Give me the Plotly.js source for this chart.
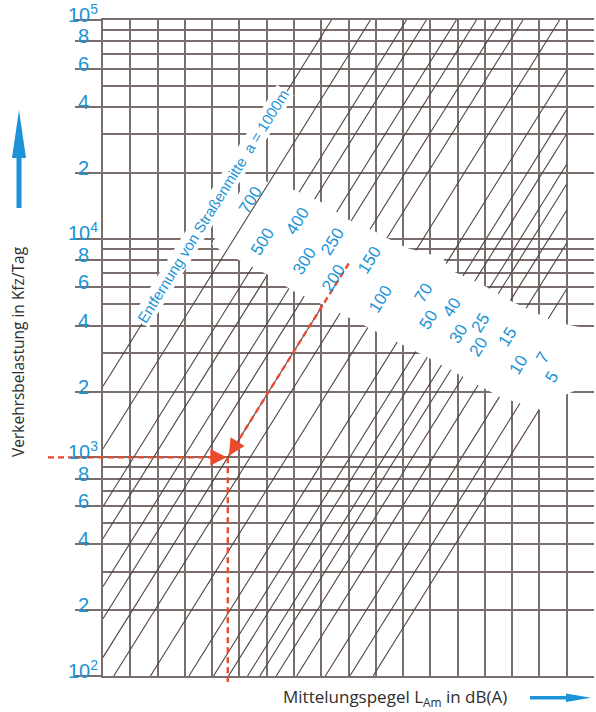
<!DOCTYPE html>
<html><head><meta charset="utf-8">
<script src="https://cdn.plot.ly/plotly-3.0.1.min.js"></script>
<style>html,body{margin:0;padding:0;background:#fff}#chart{width:596px;height:712px}</style>
</head><body><div id="chart"></div>
<script>
// ---------------- DATA ----------------
// distance from road centre (m)
const distances = [1000, 700, 500, 400, 300, 250, 200, 150, 100, 70, 50, 40, 30, 25, 20, 15, 10, 7, 5];
// Mittelungspegel L_Am (dB(A)) of each distance line at a traffic load of 1000 Kfz/Tag
const levelAt1000 = [32.75, 35.61, 38.25, 39.71, 41.91, 43.38, 45.15, 46.79, 49.48, 52.3, 54.1, 55.2, 56.6, 57.5, 58.7, 60.2, 62.3, 64.1, 65.8];
const distanceLabels = ['a = 1000m', '700', '500', '400', '300', '250', '200', '150', '100', '70', '50', '40', '30', '25', '20', '15', '10', '7', '5'];
// y axis (Verkehrsbelastung, Kfz/Tag)
const yTickVals = [100, 200, 400, 600, 800, 1000, 2000, 4000, 6000, 8000, 10000, 20000, 40000, 60000, 80000, 100000];
const yTickText = ['10<sup>2</sup>', '2', '4', '6', '8', '10<sup>3</sup>', '2', '4', '6', '8', '10<sup>4</sup>', '2', '4', '6', '8', '10<sup>5</sup>'];
const yMinorVals = [300, 500, 700, 900, 3000, 5000, 7000, 9000, 30000, 50000, 70000, 90000];
// x grid (dB(A), unlabelled, 2 dB steps)
const xGridVals = [36, 38, 40, 42, 44, 46, 48, 50, 52, 54, 56, 58, 60, 62, 64, 66, 68, 70];
const exampleDistance = 200;
const exampleStartTraffic = 7700;
const exampleTraffic = 1000;

// ---------------- LAYOUT GEOMETRY ----------------
const W = 596, H = 712;
const M = {l: 103, r: 2, t: 20, b: 36};
const PW = W - M.l - M.r, PH = H - M.t - M.b;
const X_MIN = 36, X_MAX = 72, LOG_MIN = 2, LOG_MAX = 5;
const X_LINE_MAX = 70;
const pxToDb = px => X_MIN + (px - M.l) * (X_MAX - X_MIN) / PW;
const pyToVal = py => Math.pow(10, LOG_MIN + (M.t + PH - py) * (LOG_MAX - LOG_MIN) / PH);
const pxToPaperX = px => (px - M.l) / PW;
const pyToPaperY = py => (M.t + PH - py) / PH;
const dbToPaperX = db => (db - X_MIN) / (X_MAX - X_MIN);
const valToPaperY = v => (Math.log10(v) - LOG_MIN) / (LOG_MAX - LOG_MIN);

const GRID = '#7a6e6d';
const DIAG = '#4f4544';
const BLUE = '#1b93d6';
const RED = '#ec4a2c';
const TXT = '#2e2e2e';

// white band behind the distance labels (pixel outline)
const maskOutlinePx = [[248,176],[294,190],[321,202],[349,220],[376,232],[387,238],[407,248],[443,258],[450,270],[483,285],[513,302],[555,322],[594,330],[594,382],[563,396],[540,410],[500,397],[427,357],[373,330],[330,308],[293,291],[270,276],[247,264],[223,252],[212,244]];
// label centres (pixel)
const labelPosPx = [[213,207],[250,200],[263,242],[297,221],[304,261],[333,242],[333,278],[369,260],[380,299],[423,293],[428,320],[452,308],[458,334],[480,323],[478,347],[507,337],[518,365],[542,358],[552,378]];

// ---------------- TRACES ----------------
function lineSegment(L) {
  const lo = Math.max(LOG_MIN, 3 + (X_MIN - L) / 10);
  const hi = Math.min(LOG_MAX, 3 + (X_LINE_MAX - L) / 10);
  return {x: [L + 10 * (lo - 3), L + 10 * (hi - 3)], y: [Math.pow(10, lo), Math.pow(10, hi)]};
}
const underX = [], underY = [], overX = [], overY = [];
distances.forEach((d, i) => {
  const s = lineSegment(levelAt1000[i]);
  const tx = (d >= 700) ? overX : underX, ty = (d >= 700) ? overY : underY;
  tx.push(s.x[0], s.x[1], null); ty.push(s.y[0], s.y[1], null);
});
const traces = [];
traces.push({type: 'scatter', mode: 'lines', x: underX, y: underY, line: {color: DIAG, width: 1.1}, hoverinfo: 'skip', showlegend: false});
traces.push({type: 'scatter', mode: 'lines', fill: 'toself', fillcolor: '#ffffff',
  x: maskOutlinePx.map(p => pxToDb(p[0])), y: maskOutlinePx.map(p => pyToVal(p[1])),
  line: {width: 0, color: 'rgba(0,0,0,0)'}, hoverinfo: 'skip', showlegend: false});
traces.push({type: 'scatter', mode: 'lines', x: overX, y: overY, line: {color: DIAG, width: 1.1}, hoverinfo: 'skip', showlegend: false});

const exIdx = distances.indexOf(exampleDistance);
const exL = levelAt1000[exIdx];
const levelAt = (L, m) => L + 10 * Math.log10(m / 1000);
const exPointX = levelAt(exL, exampleTraffic);
traces.push({type: 'scatter', mode: 'lines', x: [levelAt(exL, exampleStartTraffic), exPointX], y: [exampleStartTraffic, exampleTraffic],
  line: {color: RED, width: 2.4, dash: '6px,4px'}, hoverinfo: 'skip', showlegend: false});

// ---------------- ANNOTATIONS ----------------
const ann = [];
yTickVals.forEach((v, i) => {
  ann.push({xref: 'paper', yref: 'y', x: 0, y: Math.log10(v), xshift: -20, yshift: yTickText[i].startsWith('10') ? 7 : 5,
    xanchor: 'center', yanchor: 'middle', showarrow: false, text: yTickText[i],
    font: {family: 'Liberation Sans, Arial, sans-serif', size: 20, color: BLUE}});
});
distanceLabels.forEach((t, i) => {
  const p = labelPosPx[i];
  const isLong = i === 0;
  ann.push({xref: 'paper', yref: 'paper', x: pxToPaperX(p[0]), y: pyToPaperY(p[1]), xanchor: 'center', yanchor: 'middle',
    showarrow: false, textangle: -58, text: isLong ? 'Entfernung von Straßenmitte\u00a0\u00a0a = 1000m' : t,
    bgcolor: isLong ? '#ffffff' : 'rgba(0,0,0,0)', borderpad: isLong ? 1 : 0,
    font: {family: 'Liberation Sans, Arial, sans-serif', size: isLong ? 15 : 17, color: BLUE}});
});
// arrowheads of the worked example
ann.push({xref: 'paper', yref: 'paper', x: dbToPaperX(exPointX), y: valToPaperY(exampleTraffic), ax: -18, ay: 0,
  showarrow: true, arrowhead: 2, arrowsize: 1.5, arrowwidth: 2.2, arrowcolor: RED, text: ' ', standoff: 1});
ann.push({xref: 'paper', yref: 'paper', x: dbToPaperX(exPointX), y: valToPaperY(exampleTraffic), ax: 10, ay: -16,
  showarrow: true, arrowhead: 2, arrowsize: 1.5, arrowwidth: 2.2, arrowcolor: RED, text: ' ', standoff: 2});
// axis titles
ann.push({xref: 'paper', yref: 'paper', x: pxToPaperX(18), y: pyToPaperY(352), textangle: -90, showarrow: false,
  xanchor: 'center', yanchor: 'middle', text: 'Verkehrsbelastung in Kfz/Tag',
  font: {family: 'Open Sans, sans-serif', size: 15.5, color: TXT}});
ann.push({xref: 'paper', yref: 'paper', x: pxToPaperX(395), y: pyToPaperY(697), showarrow: false,
  xanchor: 'center', yanchor: 'middle', text: 'Mittelungspegel L<sub>Am</sub> in dB(A)',
  font: {family: 'Open Sans, sans-serif', size: 17, color: TXT}});

// ---------------- SHAPES ----------------
function pathPx(pts) {
  return 'M' + pts.map(p => pxToPaperX(p[0]).toFixed(5) + ',' + pyToPaperY(p[1]).toFixed(5)).join('L') + 'Z';
}
const shapes = [
  {type: 'line', xref: 'paper', yref: 'paper', x0: pxToPaperX(48), x1: dbToPaperX(exPointX) - 14 / PW,
   y0: valToPaperY(exampleTraffic), y1: valToPaperY(exampleTraffic), line: {color: RED, width: 2.4, dash: '6px,4px'}},
  {type: 'line', xref: 'paper', yref: 'paper', x0: dbToPaperX(exPointX), x1: dbToPaperX(exPointX),
   y0: valToPaperY(exampleTraffic), y1: pyToPaperY(682), line: {color: RED, width: 2.4, dash: '6px,4px'}},
  {type: 'path', xref: 'paper', yref: 'paper', fillcolor: BLUE, line: {width: 0},
   path: pathPx([[19,110],[26,158],[21.5,158],[21.5,208],[16.5,208],[16.5,158],[12,158]])},
  {type: 'path', xref: 'paper', yref: 'paper', fillcolor: BLUE, line: {width: 0},
   path: pathPx([[530,696],[566,696],[566,693.5],[591,697.8],[566,702],[566,699.5],[530,699.5]])}
];

const layout = {
  width: W, height: H, margin: M, paper_bgcolor: '#ffffff', plot_bgcolor: '#ffffff', showlegend: false,
  xaxis: {range: [X_MIN, X_MAX], tickmode: 'array', tickvals: xGridVals, showticklabels: false, ticks: '',
    showgrid: true, gridcolor: GRID, gridwidth: 2, zeroline: false, showline: true, mirror: true, linecolor: GRID, linewidth: 2, fixedrange: true},
  yaxis: {type: 'log', range: [LOG_MIN, LOG_MAX], tickmode: 'array', tickvals: yTickVals, showticklabels: false,
    ticks: 'outside', ticklen: 26, tickwidth: 2, tickcolor: GRID,
    showgrid: true, gridcolor: GRID, gridwidth: 2, zeroline: false, showline: true, linecolor: GRID, linewidth: 2,
    minor: {tickmode: 'array', tickvals: yMinorVals, showgrid: true, gridcolor: GRID, gridwidth: 2, ticks: ''}, fixedrange: true},
  annotations: ann, shapes: shapes
};
Plotly.newPlot('chart', traces, layout, {displayModeBar: false, staticPlot: true});
</script>
</body></html>
